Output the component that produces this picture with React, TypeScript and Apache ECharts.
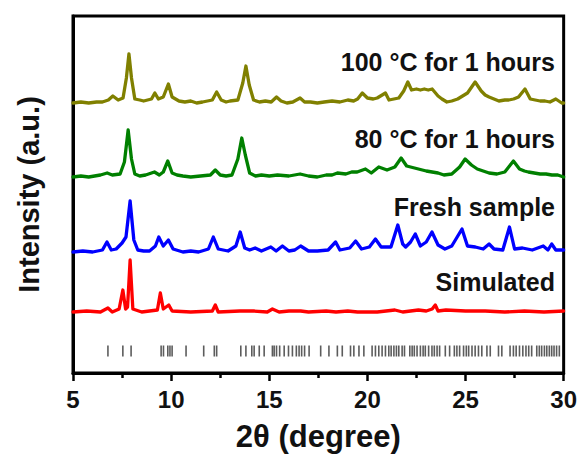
import React, { useEffect, useRef } from "react";
import * as echarts from "echarts";

// 2θ range and axis ticks
const xMin = 5;
const xMax = 30;
const xStep = 5;

// Patterns: [2θ, intensity above own baseline] (a.u.)
const heated100: number[][] = [
  [5.0, 0], [5.4, 1], [5.8, 0], [6.2, 1], [6.5, 1], [6.8, 3], [7.03, 7], [7.3, 3], [7.55, 5], [7.72, 25], [7.85, 49], [7.98, 25],
  [8.15, 4], [8.4, 3], [8.6, 2], [9.0, 4], [9.17, 10], [9.35, 4], [9.6, 6], [9.86, 19], [10.05, 6], [10.4, 2], [10.7, 1], [11.0, 2],
  [11.3, 0], [11.6, 1], [12.1, 3], [12.32, 11], [12.55, 3], [12.8, 1], [13.0, 2], [13.4, 3], [13.65, 20], [13.81, 37], [13.98, 18],
  [14.2, 3], [14.5, 1], [14.8, 2], [15.1, 1], [15.37, 6], [15.6, 2], [15.9, 0], [16.2, 1], [16.57, 5], [16.8, 1], [17.1, 1],
  [17.45, 0], [17.8, 1], [18.2, 2], [18.6, 1], [19.0, 3], [19.3, 2],
  [19.5, 4], [19.74, 10], [20.0, 5], [20.3, 4], [20.5, 5], [20.92, 10], [21.1, 3], [21.35, 4], [21.6, 5], [21.85, 12], [22.06, 21],
  [22.25, 13], [22.5, 14], [22.7, 13], [22.9, 14], [23.1, 13], [23.3, 14], [23.6, 7], [23.8, 4], [24.05, 1], [24.3, 2], [24.6, 4], [25.1, 10], [25.49, 21],
  [25.8, 12], [26.0, 8], [26.2, 6], [26.45, 4], [26.7, 2], [27.0, 3], [27.2, 3], [27.45, 4], [27.7, 6], [28.03, 14], [28.3, 4], [28.55, 3], [28.8, 2], [29.05, 2], [29.3, 1], [29.6, 4],
  [29.9, 0], [30.0, 0],
];

const heated80: number[][] = [
  [5.0, 0], [5.4, 1], [5.8, 0], [6.1, 1], [6.4, 2], [6.74, 4], [7.0, 2], [7.4, 3], [7.62, 15], [7.81, 47], [7.98, 18], [8.15, 3],
  [8.4, 1], [8.7, 2], [9.15, 5], [9.4, 2], [9.6, 5], [9.83, 16], [10.05, 4], [10.3, 2], [10.6, 1], [11.0, 0], [11.5, 1], [12.0, 2], [12.25, 7],
  [12.5, 2], [12.8, 1], [13.1, 2], [13.4, 18], [13.6, 39], [13.78, 22], [14.0, 4], [14.3, 1], [14.6, 2], [15.0, 1], [15.42, 2], [16.0, 1],
  [16.57, 3], [17.0, 1], [17.45, 0], [17.9, 2], [18.2, 2], [18.47, 4], [18.9, 3], [19.2, 5], [19.48, 5], [19.9, 8], [20.2, 4], [20.58, 10], [21.0, 7],
  [21.4, 10], [21.72, 19], [22.0, 11], [22.2, 10], [22.4, 9], [22.8, 7], [23.0, 6], [23.3, 5], [23.6, 4], [23.9, 2], [24.3, 3], [24.7, 10],
  [24.98, 18], [25.3, 12], [25.6, 8], [25.9, 6], [26.2, 4], [26.6, 3], [27.0, 5], [27.44, 16], [27.75, 8], [28.0, 6], [28.2, 5],
  [28.5, 4], [28.8, 3], [29.1, 3], [29.4, 2], [29.7, 2], [30.0, 0],
];

const fresh: number[][] = [
  [5.0, 0], [5.5, 1], [6.0, 0], [6.5, 2], [6.73, 10], [6.95, 2], [7.2, 3], [7.5, 9], [7.7, 15], [7.91, 51], [8.1, 12],
  [8.3, 2], [8.6, 1], [8.9, 1], [9.2, 6], [9.37, 15], [9.6, 6], [9.86, 12], [10.1, 3], [10.6, 0], [11.0, 1], [11.4, 0], [11.9, 3],
  [12.15, 15], [12.4, 3], [12.9, 1], [13.3, 6], [13.52, 20], [13.75, 4], [14.0, 2], [14.28, 4], [14.6, 1], [15.08, 5],
  [15.35, 1], [15.67, 6], [16.0, 1], [16.3, 2], [16.6, 6], [17.0, 1], [17.45, 1], [18.0, 2], [18.38, 10], [18.6, 2],
  [19.1, 4], [19.4, 11], [19.7, 3], [20.1, 5], [20.41, 13], [20.7, 5], [21.2, 5], [21.55, 27], [21.8, 8],
  [21.95, 5], [22.2, 10], [22.44, 18], [22.7, 6], [23.0, 10], [23.29, 20], [23.6, 7], [23.95, 3], [24.3, 6],
  [24.82, 23], [25.1, 6], [25.5, 5], [25.9, 3], [26.2, 8], [26.45, 3], [26.9, 2], [27.24, 25], [27.5, 3],
  [27.9, 4], [28.4, 2], [28.96, 6], [29.2, 2], [29.39, 8], [29.6, 2], [30.0, 2],
];

const simulated: number[][] = [
  [5.0, 0], [5.7, 1], [6.4, 0], [6.78, 4], [7.0, 0], [7.35, 3], [7.54, 22], [7.68, 3], [7.78, 5], [7.91, 52], [8.05, 3],
  [8.5, 0], [9.3, 2], [9.45, 19], [9.6, 3], [9.88, 7], [10.05, 1], [11.0, 0], [12.1, 1], [12.25, 7], [12.4, 0],
  [13.5, 1], [14.2, 1], [14.9, 0], [15.16, 3], [15.5, 0], [16.0, 1], [16.6, 1], [17.0, 0], [17.9, 1], [18.4, 0],
  [19.0, 1], [19.5, 0], [20.5, 0], [21.4, 2], [21.8, 0], [22.2, 1], [22.6, 2], [23.0, 1], [23.3, 3], [23.46, 7],
  [23.6, 1], [24.0, 2], [25.0, 1], [26.0, 1], [27.0, 0], [28.0, 1], [29.0, 0], [30.0, 1],
];

// Calculated reflection positions (2θ)
const reflections: number[] = [
  6.78, 7.54, 7.96, 9.49, 9.61, 9.83, 9.94, 10.05, 10.76, 11.66, 12.2, 12.32, 13.55, 13.81, 14.11, 14.23,
  14.49, 14.74, 15.16, 15.25, 15.37, 15.53, 15.76, 15.98, 16.18, 16.38, 16.52, 16.65, 16.8, 17.03, 17.62,
  18.04, 18.47, 18.72, 19.14, 19.31, 19.57, 19.82, 20.24, 20.41, 20.58, 20.75, 20.92, 21.09, 21.21, 21.35,
  21.48, 21.6, 21.77, 21.89, 22.16, 22.28, 22.39, 22.53, 22.7, 22.84, 22.95, 23.12, 23.29, 23.41, 23.55,
  23.68, 23.97, 24.19, 24.43, 24.56, 24.7, 24.9, 25.04, 25.16, 25.33, 25.49, 25.66, 25.83, 26.09, 26.26,
  26.68, 26.85, 27.27, 27.44, 27.58, 27.75, 27.92, 28.08, 28.22, 28.37, 28.63, 28.76, 28.88, 29.02, 29.14,
  29.27, 29.39, 29.51, 29.64, 29.78,
];

const patternNames = ["100 °C for 1 hours", "80 °C for 1 hours", "Fresh sample", "Simulated"];
const patternColors = ["#808000", "#008000", "#0000ff", "#ff0000"];
const patternOffsets = [270, 196, 121, 61];
const reflectionLevel = 22;
const yMax = 357;

const FONT = "Liberation Sans, Arial, Helvetica, sans-serif";

export default function App() {
  const ref = useRef<HTMLDivElement>(null);

  useEffect(() => {
    if (!ref.current) return;
    const chart = echarts.init(ref.current, undefined, { renderer: "svg" });
    const patterns = [heated100, heated80, fresh, simulated];

    const lineSeries = patterns.map((p, i) => ({
      name: patternNames[i],
      type: "line",
      showSymbol: false,
      data: p.map(([x, v]) => [x, v + patternOffsets[i]]),
      lineStyle: { color: patternColors[i], width: 3.3, join: "round", cap: "round" },
      itemStyle: { color: patternColors[i] },
      z: 3,
    }));

    chart.setOption({
      animation: false,
      backgroundColor: "#ffffff",
      grid: {
        left: 73,
        right: 15,
        top: 16,
        bottom: 95,
        show: true,
        borderColor: "#000",
        borderWidth: 3,
      },
      xAxis: {
        type: "value",
        min: xMin,
        max: xMax,
        interval: xStep,
        name: "2θ (degree)",
        nameLocation: "middle",
        nameGap: 48,
        nameTextStyle: { fontFamily: FONT, fontWeight: "bold", fontSize: 31, color: "#111" },
        axisLine: { show: true, lineStyle: { color: "#000", width: 3 } },
        axisTick: { show: true, inside: false, length: 8, lineStyle: { color: "#000", width: 2.5 } },
        minorTick: { show: true, splitNumber: 2, length: 5, lineStyle: { color: "#000", width: 2.5 } },
        axisLabel: { fontFamily: FONT, fontWeight: "bold", fontSize: 24, color: "#111", margin: 14 },
        splitLine: { show: false },
      },
      yAxis: {
        type: "value",
        min: 0,
        max: yMax,
        name: "Intensity (a.u.)",
        nameLocation: "middle",
        nameGap: 30,
        nameTextStyle: { fontFamily: FONT, fontWeight: "bold", fontSize: 29, color: "#111" },
        axisLine: { show: true, lineStyle: { color: "#000", width: 3 } },
        axisTick: { show: false },
        axisLabel: { show: false },
        splitLine: { show: false },
      },
      series: [
        ...lineSeries,
        {
          name: "reflections",
          type: "scatter",
          symbol: "rect",
          symbolSize: [1.6, 11],
          data: reflections.map((x) => [x, reflectionLevel]),
          itemStyle: { color: "#333" },
          z: 2,
        },
      ],
      graphic: patternNames.map((name, i) => ({
        type: "text",
        right: 25,
        top: [49, 126, 194, 269][i],
        style: {
          text: name,
          fontFamily: FONT,
          fontWeight: "bold",
          fontSize: 25,
          fill: "#111",
        },
        z: 10,
      })),
    });

    return () => chart.dispose();
  }, []);

  return (
    <div
      ref={ref}
      style={{ position: "absolute", left: 0, top: 0, width: 580, height: 468 }}
    />
  );
}
